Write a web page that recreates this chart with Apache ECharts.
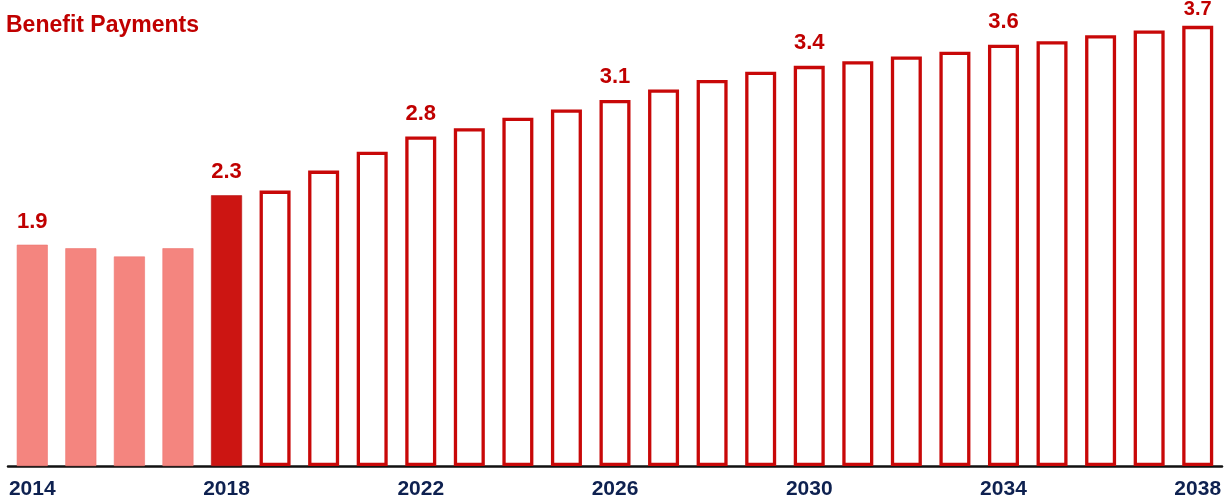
<!DOCTYPE html>
<html>
<head>
<meta charset="utf-8">
<script src="https://cdn.jsdelivr.net/npm/echarts@6/dist/echarts.min.js"></script>
<style>
html,body{margin:0;padding:0;background:#fff;}
#chart{width:1225px;height:501px;}
</style>
</head>
<body>
<div id="chart"></div>
<script>
// ---- data ----
const years = ['2014','2015','2016','2017','2018','2019','2020','2021','2022','2023','2024','2025','2026',
               '2027','2028','2029','2030','2031','2032','2033','2034','2035','2036','2037','2038'];
const payments = [1.88,1.85,1.78,1.85,2.30,2.34,2.51,2.67,2.80,2.87,2.96,3.03,3.11,
                  3.20,3.28,3.35,3.40,3.44,3.48,3.52,3.58,3.61,3.66,3.70,3.74];
const labeledYears = ['2014','2018','2022','2026','2030','2034','2038'];
const historicalYears = ['2014','2015','2016','2017'];
const currentYear = '2018';
const titleText = 'Benefit Payments';

// ---- styles ----
const RED = '#C00000';
const PINK = '#F4857F';
const SOLID = '#CC1512';
const NAVY = '#0E2150';

const data = payments.map((v, i) => {
  const y = years[i];
  let itemStyle;
  if (historicalYears.includes(y)) {
    itemStyle = {color: PINK, borderColor: '#EE7670', borderWidth: 0.6};
  } else if (y === currentYear) {
    itemStyle = {color: SOLID, borderColor: '#B81010', borderWidth: 0.6};
  } else {
    itemStyle = {color: '#ffffff', borderColor: '#C80808', borderWidth: 3.3};
  }
  const item = {value: v, itemStyle};
  if (i === payments.length - 1) {
    item.label = {fontSize: 20, distance: 6};
  }
  return item;
});

const chart = echarts.init(document.getElementById('chart'), null, {renderer: 'canvas'});
chart.setOption({
  animation: false,
  backgroundColor: '#ffffff',
  title: {
    text: titleText,
    left: 6, top: 14,
    padding: 0,
    textStyle: {color: RED, fontSize: 23, fontWeight: 'bold', fontFamily: 'Liberation Sans, Arial, sans-serif'}
  },
  grid: {left: 8, right: 3, top: 7, bottom: 35, containLabel: false},
  xAxis: {
    type: 'category',
    data: years,
    axisLine: {show: true, lineStyle: {color: '#111111', width: 2.5}},
    axisTick: {show: false},
    axisLabel: {
      interval: 3,
      margin: 13,
      color: NAVY,
      fontSize: 21,
      fontWeight: 'bold',
      fontFamily: 'Liberation Sans, Arial, sans-serif'
    },
    splitLine: {show: false}
  },
  yAxis: {
    type: 'value',
    min: 0, max: 3.9,
    show: false,
    splitLine: {show: false}
  },
  series: [{
    type: 'bar',
    data: data,
    barWidth: 31,
    label: {
      show: true,
      position: 'top',
      distance: 12,
      color: RED,
      fontSize: 22,
      fontWeight: 'bold',
      fontFamily: 'Liberation Sans, Arial, sans-serif',
      formatter: p => labeledYears.includes(p.name) ? p.value.toFixed(1) : ''
    }
  }]
});
</script>
</body>
</html>
